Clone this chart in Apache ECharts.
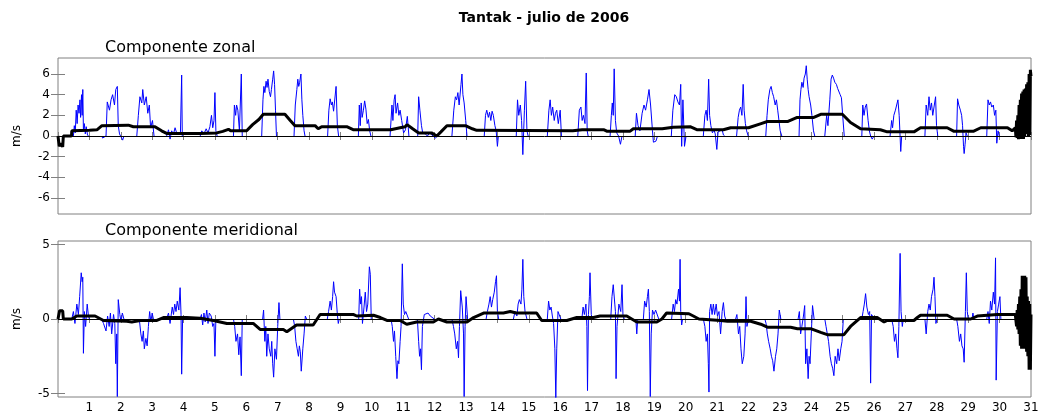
<!DOCTYPE html>
<html>
<head>
<meta charset="utf-8">
<title>Tantak - julio de 2006</title>
<script src="https://cdn.jsdelivr.net/npm/echarts@6/dist/echarts.min.js"></script>
<style>
    html, body { margin: 0; padding: 0; background: #fff; }
    #chart { width: 1043px; height: 414px; }
</style>
</head>
<body>
<div id="chart"></div>
<script>
// y ticks of the two panels
var zonalTicks = [-6, -4, -2, 0, 2, 4, 6];
var meridTicks = [-5, 0, 5];

// componente zonal, raw record (blue), one block per burst [dia, m/s]
var zonalBursts = [
    [[0.49,0],[0.52,1.0],[0.55,0.3],[0.58,2.5],[0.61,1.2],[0.64,3.0],[0.67,2.2],[0.70,3.5],[0.72,1.8],[0.75,4.0],[0.77,2.0],[0.79,4.5],[0.81,0.5],[0.84,1.2],[0.87,0.2],[0.90,0.9],[0.94,0.1],[0.97,0]],
    [[1.40,0],[1.42,-0.2],[1.53,0],[1.57,3.3],[1.64,2.5],[1.69,3.5],[1.74,4.0],[1.80,3.0],[1.84,4.5],[1.89,4.8],[1.92,1.0],[1.96,0.2],[2.06,-0.4],[2.10,0]],
    [[2.51,0],[2.56,2.0],[2.61,3.8],[2.67,3.2],[2.70,4.5],[2.75,3.0],[2.81,3.8],[2.86,2.2],[2.91,3.0],[2.95,0.8],[3.01,1.5],[3.06,0]],
    [[3.46,0],[3.52,0.6],[3.57,-0.3],[3.62,0.5],[3.68,0.2],[3.73,0.8],[3.78,0.3],[3.84,0.4],[3.90,0.2],[3.94,5.9],[3.96,0]],
    [[4.53,0],[4.58,0.5],[4.65,0.2],[4.72,0.7],[4.78,0.3],[4.84,0.9],[4.89,2.0],[4.93,0.8],[4.97,1.5],[5.00,4.2],[5.03,0.5],[5.07,0]],
    [[5.59,0],[5.62,3.0],[5.66,2.0],[5.69,3.0],[5.73,2.5],[5.78,0.5],[5.84,6.0],[5.87,0]],
    [[6.49,0],[6.53,3.5],[6.56,4.8],[6.59,4.2],[6.63,5.3],[6.66,4.7],[6.69,5.5],[6.73,4.3],[6.77,3.8],[6.80,4.5],[6.84,5.5],[6.87,6.3],[6.90,5.0],[6.93,2.5],[6.96,0]],
    [[7.52,0],[7.56,3.0],[7.61,4.5],[7.64,5.5],[7.67,4.8],[7.70,5.2],[7.74,6.0],[7.77,3.5],[7.80,2.0],[7.84,0.5],[7.87,0]],
    [[8.59,0],[8.63,2.5],[8.67,3.6],[8.71,3.0],[8.74,3.3],[8.78,2.4],[8.82,2.5],[8.86,4.8],[8.90,1.0],[8.94,0]],
    [[9.57,0],[9.60,3.0],[9.63,1.0],[9.66,3.2],[9.69,1.8],[9.73,2.5],[9.77,3.4],[9.81,2.6],[9.85,1.2],[9.89,1.6],[9.93,0.5],[9.97,0]],
    [[10.58,0],[10.64,3.0],[10.67,1.5],[10.71,3.5],[10.74,4.0],[10.77,2.2],[10.82,3.2],[10.86,2.0],[10.90,2.5],[10.95,1.5],[11.01,0.3],[11.07,0.6],[11.13,1.9],[11.18,0]],
    [[11.46,0],[11.49,3.8],[11.53,2.5],[11.58,1.0],[11.62,0.3],[11.70,0.2],[11.77,0],[11.84,0.3],[11.90,0.2],[12.02,-0.2],[12.09,0]],
    [[12.55,0],[12.61,2.5],[12.66,3.8],[12.70,3.5],[12.74,4.2],[12.78,3.0],[12.84,5.0],[12.87,6.0],[12.90,4.0],[12.94,3.2],[12.99,1.5],[13.03,0]],
    [[13.58,0],[13.62,2.0],[13.66,2.5],[13.71,1.8],[13.75,2.3],[13.79,1.5],[13.83,2.4],[13.87,2.0],[13.92,1.0],[13.96,0.5],[14.00,-1.0],[14.03,0]],
    [[14.60,0],[14.64,3.5],[14.68,2.0],[14.73,3.0],[14.77,1.5],[14.81,-1.8],[14.86,2.5],[14.90,5.3],[14.94,0.5],[14.98,0]],
    [[15.59,0],[15.64,2.5],[15.68,3.5],[15.72,2.0],[15.76,2.8],[15.81,1.5],[15.85,2.2],[15.89,2.5],[15.94,1.2],[16.00,2.5],[16.04,0]],
    [[16.56,0],[16.61,2.5],[16.66,2.8],[16.70,1.5],[16.74,2.0],[16.79,1.2],[16.83,6.1],[16.86,0.5],[16.89,0]],
    [[17.59,0],[17.63,2.0],[17.66,3.2],[17.69,2.0],[17.72,6.5],[17.76,1.5],[17.80,0.3],[17.86,0],[17.92,-0.8],[17.97,0]],
    [[18.39,0],[18.43,2.2],[18.48,1.0],[18.54,0.5],[18.61,2.2],[18.67,3.0],[18.72,2.5],[18.78,3.5],[18.83,4.5],[18.88,3.0],[18.94,0.5],[18.97,-0.6],[19.05,-0.5],[19.10,0]],
    [[19.54,0],[19.59,2.5],[19.65,4.0],[19.70,3.8],[19.75,3.3],[19.80,3.0],[19.84,5.0],[19.87,-1.0],[19.91,3.5],[19.96,-1.0],[20.01,0]],
    [[20.56,0],[20.61,2.0],[20.65,2.5],[20.69,1.5],[20.73,5.5],[20.76,2.0],[20.80,1.0],[20.85,0.3],[20.90,0.6],[20.94,0.2],[20.99,-1.3],[21.03,0.4],[21.09,0.3],[21.16,0.6],[21.20,0.1],[21.24,0]],
    [[21.62,0],[21.67,1.8],[21.71,2.5],[21.75,2.8],[21.79,2.0],[21.83,5.0],[21.86,2.5],[21.90,1.2],[21.94,0.5],[21.99,0]],
    [[22.55,0],[22.59,2.0],[22.63,3.5],[22.68,4.5],[22.72,4.8],[22.76,4.2],[22.80,3.8],[22.85,3.0],[22.89,3.5],[22.93,2.5],[22.97,1.5],[23.01,0.5],[23.06,0]],
    [[23.61,0],[23.64,3.5],[23.67,4.5],[23.70,5.2],[23.74,4.7],[23.77,5.6],[23.81,6.0],[23.84,6.8],[23.87,5.5],[23.90,4.5],[23.93,3.8],[23.98,3.0],[24.02,2.0],[24.07,0.5],[24.11,0]],
    [[24.43,0],[24.49,2.0],[24.53,1.0],[24.59,3.5],[24.63,5.5],[24.67,5.9],[24.71,5.6],[24.75,5.2],[24.80,5.0],[24.84,4.6],[24.88,4.5],[24.92,4.0],[24.96,3.7],[25.00,2.0],[25.05,0]],
    [[25.61,0],[25.64,3.0],[25.68,2.0],[25.72,2.8],[25.76,3.1],[25.81,1.5],[25.85,0.5],[25.89,0],[25.94,-0.3],[26.00,0]],
    [[26.51,0],[26.56,1.5],[26.59,0.8],[26.63,2.0],[26.68,2.5],[26.72,3.0],[26.76,3.5],[26.80,2.0],[26.85,-1.5],[26.88,0]],
    [[27.62,0],[27.66,3.0],[27.71,2.0],[27.75,3.8],[27.79,2.5],[27.83,3.2],[27.87,2.0],[27.92,3.0],[27.96,3.8],[27.99,1.0],[28.03,0]],
    [[28.63,0],[28.66,3.6],[28.70,3.0],[28.75,2.5],[28.79,2.0],[28.82,1.0],[28.85,-1.0],[28.87,-1.7],[28.90,-0.8],[28.93,0.3],[28.97,0]],
    [[29.59,0],[29.63,3.5],[29.67,3.0],[29.71,3.3],[29.75,2.8],[29.80,3.0],[29.84,2.0],[29.88,2.5],[29.91,-0.7],[29.95,0.5],[29.99,0]]
];

// componente zonal, filtered record (black)
var zonalMean = [
    [0,0],[0.02,-0.1],[0.04,-1.0],[0.10,-0.7],[0.15,-1.05],[0.17,0],[0.43,0],[0.44,0.5],[1.00,0.55],[1.24,0.6],[1.40,1.0],
    [2.24,1.05],[2.40,0.9],[3.09,0.9],[3.30,0.5],[3.46,0.25],[4.53,0.25],[5.06,0.3],[5.25,0.45],[5.43,0.65],[5.50,0.5],
    [6.01,0.5],[6.20,1.1],[6.40,1.6],[6.54,2.1],[7.23,2.1],[7.40,1.5],[7.55,1.0],[8.19,1.0],[8.29,0.7],[8.40,0.9],[9.20,0.9],
    [9.42,0.6],[10.60,0.6],[10.90,0.8],[11.06,0.9],[11.12,1.1],[11.30,0.7],[11.49,0.3],[11.90,0.3],[12.07,0.0],[12.20,0.4],
    [12.39,1.0],[12.98,1.0],[13.20,0.7],[13.34,0.55],[16.40,0.5],[16.70,0.6],[17.40,0.6],[17.50,0.45],[18.22,0.45],[18.33,0.7],
    [19.25,0.7],[19.60,0.85],[20.14,0.9],[20.20,0.95],[20.37,0.6],[21.20,0.6],[21.43,0.8],[22.00,0.8],[22.40,1.2],[22.60,1.4],
    [23.24,1.4],[23.55,1.8],[24.08,1.8],[24.30,2.1],[24.99,2.1],[25.25,1.3],[25.57,0.7],[26.20,0.6],[26.42,0.4],[27.27,0.4],
    [27.48,0.8],[28.33,0.8],[28.55,0.45],[29.16,0.45],[29.40,0.8],[30.25,0.8],[30.40,0.5],[30.50,0.8],
    [30.52,-0.1],[30.54,1.5],[30.56,-0.2],[30.58,2.0],[30.60,-0.3],[30.62,3.0],[30.64,-0.2],[30.66,3.5],[30.68,-0.3],[30.70,4.1],
    [30.72,-0.2],[30.74,4.3],[30.76,-0.3],[30.78,4.5],[30.80,-0.1],[30.82,4.6],[30.84,0.2],[30.86,5.0],[30.88,0.3],[30.90,5.2],
    [30.92,0.0],[30.94,6.0],[30.96,0.1],[30.98,6.4],[31.00,5.8]
];

// componente meridional, raw record (blue)
var meridBursts = [
    [[0.44,0],[0.49,0.5],[0.54,-0.3],[0.60,1.0],[0.65,0.3],[0.69,1.5],[0.74,3.1],[0.77,2.5],[0.79,2.8],[0.81,-2.3],[0.84,0.5],[0.88,-0.5],[0.93,1.0],[0.97,0.2],[1.00,0]],
    [[1.39,0],[1.45,-0.3],[1.53,-0.8],[1.58,0.2],[1.63,-0.5],[1.67,0.4],[1.71,-1.0],[1.77,0.3],[1.81,-0.3],[1.84,-3.0],[1.87,-1.0],[1.89,-5.2],[1.92,1.3],[1.97,0.3],[2.01,-0.2],[2.05,0.4],[2.10,0]],
    [[2.59,0],[2.64,-1.0],[2.68,-1.5],[2.72,-0.8],[2.75,-2.0],[2.80,-1.3],[2.84,-1.8],[2.88,-0.5],[2.92,0.5],[2.96,-0.2],[3.00,0.4],[3.04,0]],
    [[3.46,0],[3.52,0.4],[3.57,-0.3],[3.64,0.8],[3.68,0.3],[3.72,1.0],[3.76,0.5],[3.80,1.2],[3.85,0.6],[3.89,2.1],[3.92,0.3],[3.94,-3.7],[3.97,0]],
    [[4.53,0],[4.57,0.3],[4.61,-0.4],[4.65,0.4],[4.69,-0.2],[4.74,0.6],[4.78,-0.3],[4.82,0.4],[4.88,0.2],[4.93,-0.5],[4.97,-0.3],[5.00,-2.5],[5.03,0]],
    [[5.59,0],[5.63,-0.5],[5.67,-1.5],[5.72,-1.0],[5.76,-2.4],[5.80,-1.2],[5.84,-3.8],[5.87,0]],
    [[6.52,0],[6.55,0.6],[6.59,-1.5],[6.62,-0.5],[6.65,-2.5],[6.69,-1.0],[6.73,-2.0],[6.78,-2.5],[6.81,-1.5],[6.84,-3.0],[6.87,-3.9],[6.91,-2.0],[6.96,-2.7],[7.00,-0.5],[7.04,1.1],[7.07,0]],
    [[7.50,0],[7.54,-0.5],[7.58,-1.5],[7.62,-2.0],[7.66,-2.5],[7.69,-1.8],[7.72,-2.2],[7.75,-3.5],[7.80,-2.0],[7.84,-1.0],[7.88,0.2],[7.92,0]],
    [[8.58,0],[8.62,0.5],[8.67,1.2],[8.71,0.6],[8.75,1.5],[8.78,2.5],[8.81,1.8],[8.86,1.5],[8.90,0.3],[8.93,-0.3],[8.96,0]],
    [[9.58,0],[9.61,2.0],[9.64,1.0],[9.67,1.5],[9.70,-0.3],[9.75,0.8],[9.79,1.8],[9.83,0.5],[9.87,1.0],[9.92,3.5],[9.95,3.0],[9.98,0]],
    [[10.61,0],[10.65,-0.5],[10.69,-1.5],[10.72,-0.8],[10.76,-2.5],[10.80,-4.0],[10.83,-2.8],[10.86,-3.0],[10.90,-1.5],[10.93,-0.5],[10.97,3.7],[11.00,1.0],[11.04,0.3],[11.08,0.5],[11.13,0.4],[11.17,0]],
    [[11.45,0],[11.49,-1.5],[11.52,-2.5],[11.55,-2.0],[11.58,-3.4],[11.61,-0.5],[11.67,0.3],[11.73,0.2],[11.79,0.4],[11.86,0.2],[11.92,0.3],[11.99,0]],
    [[12.55,0],[12.60,-0.5],[12.64,-1.0],[12.69,-2.0],[12.73,-1.5],[12.76,-2.6],[12.79,-0.5],[12.83,1.9],[12.88,0.8],[12.92,-1.0],[12.94,-5.2],[12.97,-0.5],[13.00,1.5],[13.05,0]],
    [[13.64,0],[13.68,0.5],[13.73,1.0],[13.77,1.5],[13.81,0.8],[13.85,1.3],[13.90,1.8],[13.94,2.5],[13.97,2.9],[14.00,0.5],[14.04,0]],
    [[14.51,0],[14.56,0.5],[14.62,0.2],[14.66,1.0],[14.70,1.3],[14.75,1.0],[14.78,2.0],[14.81,4.0],[14.84,1.5],[14.88,0.5],[14.94,0]],
    [[15.59,0],[15.63,1.2],[15.67,0.6],[15.71,0.8],[15.75,0.2],[15.79,-0.3],[15.83,-2.0],[15.86,-5.3],[15.89,-2.0],[15.93,0.5],[15.98,0.4],[16.02,0]],
    [[16.69,0],[16.73,0.8],[16.77,0.3],[16.82,1.0],[16.85,-0.5],[16.87,-4.8],[16.90,0.3],[16.93,1.5],[16.95,3.1],[16.99,0.3],[17.02,0]],
    [[17.61,0],[17.65,1.5],[17.69,2.3],[17.74,1.0],[17.76,0.5],[17.78,-4.0],[17.81,-0.5],[17.87,1.0],[17.93,0.5],[17.97,2.3],[18.00,0.3],[18.04,0]],
    [[18.41,0],[18.44,-1.0],[18.47,0]],
    [[18.65,0],[18.69,1.2],[18.74,0.8],[18.78,1.5],[18.81,2.0],[18.84,0.5],[18.87,-5.2],[18.90,-1.0],[18.94,0.6],[18.99,0.3],[19.04,0.6],[19.10,0.5],[19.14,0]],
    [[19.55,0],[19.60,1.0],[19.64,0.5],[19.68,1.3],[19.72,1.0],[19.77,2.0],[19.80,1.2],[19.82,4.0],[19.84,0.5],[19.87,-0.4],[19.90,0]],
    [[20.56,0],[20.61,-0.5],[20.65,-1.5],[20.69,-1.0],[20.72,-3.0],[20.74,-4.9],[20.76,0.5],[20.80,1.0],[20.84,0.3],[20.88,1.0],[20.92,0.3],[20.97,1.0],[21.01,0.2],[21.06,0.5],[21.11,-1.0],[21.16,0.5],[21.20,1.1],[21.24,0.2],[21.27,0]],
    [[21.59,0],[21.63,0.3],[21.68,-1.0],[21.72,-0.5],[21.76,-2.0],[21.80,-3.0],[21.85,-2.5],[21.89,-1.0],[21.92,1.5],[21.95,-0.5],[22.00,0]],
    [[22.52,0],[22.56,-0.3],[22.60,-1.0],[22.64,-1.5],[22.69,-2.0],[22.73,-2.5],[22.77,-2.8],[22.81,-3.5],[22.86,-2.5],[22.90,-2.0],[22.94,-1.0],[22.98,0.6],[23.03,0]],
    [[23.58,0],[23.62,0.5],[23.66,-1.0],[23.70,-0.5],[23.75,0.2],[23.79,0.9],[23.82,-3.0],[23.86,-2.0],[23.90,-4.0],[23.93,-2.5],[23.96,-3.0],[24.00,-1.0],[24.04,0.9],[24.09,0]],
    [[24.43,0],[24.47,-0.5],[24.51,-1.0],[24.55,-1.5],[24.60,-2.5],[24.64,-3.0],[24.68,-3.3],[24.72,-3.8],[24.76,-2.5],[24.81,-3.0],[24.85,-2.0],[24.89,-2.8],[24.94,-2.0],[24.98,-1.5],[25.02,0]],
    [[25.61,0],[25.65,0.5],[25.69,1.0],[25.73,1.7],[25.77,0.8],[25.82,0.3],[25.86,0.5],[25.89,-4.3],[25.92,0.3],[25.97,0.4],[26.01,0]],
    [[26.56,0],[26.61,-0.5],[26.65,-1.5],[26.69,-1.0],[26.73,-2.0],[26.76,-2.6],[26.79,-0.5],[26.83,4.4],[26.86,0.5],[26.90,-0.5],[26.93,0]],
    [[27.62,0],[27.66,-1.0],[27.71,0.5],[27.75,1.0],[27.79,0.6],[27.83,1.5],[27.88,2.0],[27.91,2.8],[27.94,1.5],[27.97,-0.3],[28.01,0]],
    [[28.63,0],[28.67,-0.5],[28.72,-1.5],[28.76,-1.0],[28.80,-1.8],[28.84,-2.0],[28.87,-2.9],[28.91,0.5],[28.94,3.1],[28.97,0.5],[29.00,0]],
    [[29.12,0],[29.15,0.4],[29.18,0]],
    [[29.59,0],[29.63,0.5],[29.67,-0.3],[29.71,1.2],[29.75,0.6],[29.80,1.8],[29.84,1.0],[29.87,4.1],[29.89,-4.1],[29.93,0.5],[29.97,1.0],[30.01,1.5],[30.04,0]]
];

// componente meridional, filtered record (black)
var meridMean = [
    [0,0],[0.04,0],[0.05,0.55],[0.15,0.55],[0.17,0],[0.44,0],[0.60,0.2],[1.18,0.2],[1.45,-0.1],[2.19,-0.15],[2.35,-0.2],
    [2.62,-0.1],[3.15,-0.1],[3.36,0.1],[4.10,0.1],[4.53,0.05],[4.95,-0.1],[5.38,-0.3],[6.22,-0.3],[6.44,-0.7],[7.18,-0.7],
    [7.29,-0.85],[7.60,-0.4],[8.13,-0.4],[8.35,0.3],[9.42,0.3],[9.52,0.2],[10.05,0.25],[10.27,0.1],[10.48,-0.1],[10.90,-0.1],
    [11.11,-0.35],[11.43,-0.2],[11.96,-0.2],[12.12,0.0],[12.39,-0.2],[13.03,-0.2],[13.24,0.1],[13.56,0.4],[14.19,0.4],
    [14.41,0.5],[14.60,0.4],[15.25,0.4],[15.41,-0.1],[16.21,-0.1],[16.53,0.1],[17.06,0.1],[17.27,0.2],[18.12,0.2],
    [18.44,-0.2],[19.08,-0.2],[19.24,0.0],[19.39,0.4],[20.10,0.35],[20.24,0.2],[20.42,0.0],[20.48,-0.1],[21.11,-0.1],
    [21.33,-0.15],[22.07,-0.15],[22.39,-0.35],[22.60,-0.55],[23.34,-0.55],[23.56,-0.65],[23.98,-0.65],[24.30,-0.9],
    [24.51,-1.05],[25.04,-1.05],[25.25,-0.5],[25.57,0.1],[26.10,0.1],[26.32,-0.2],[26.42,-0.1],[27.27,-0.1],[27.38,0.1],
    [27.48,0.25],[28.33,0.25],[28.55,0.0],[29.08,0.0],[29.29,0.2],[29.93,0.3],[30.50,0.3],
    [30.52,0.3],[30.54,-0.5],[30.56,0.6],[30.58,-0.7],[30.60,1.0],[30.62,-1.0],[30.64,1.5],[30.66,-1.8],[30.68,2.0],[30.70,-2.0],
    [30.72,2.9],[30.74,-2.0],[30.76,2.9],[30.78,-2.0],[30.80,2.9],[30.82,-2.0],[30.84,2.8],[30.86,-2.2],[30.88,1.5],[30.90,-2.5],
    [30.92,1.2],[30.94,-3.4],[30.96,1.0],[30.98,-3.4],[31.00,0.3]
];

// bursts -> one line with breaks between them
function joinBursts(bursts) {
    var out = [];
    bursts.forEach(function(b) {
        out = out.concat(b);
        out.push([b[b.length - 1][0], '-']);
    });
    return out;
}

var gray = '#808080';
var tickFont = { color: '#000', fontFamily: 'DejaVu Sans', fontSize: 12 };

function xAx(grid, pos, labels) {
    return {
        type: 'value', gridIndex: grid, position: pos,
        min: 0, max: 31, interval: 1,
        axisLine: { show: false },
        axisTick: { inside: true, length: 4, lineStyle: { color: gray } },
        axisLabel: Object.assign({
            show: labels, margin: 5, showMinLabel: true, showMaxLabel: true,
            formatter: function(v) { return v === 0 ? '' : String(v); }
        }, tickFont),
        splitLine: { show: false }
    };
}

function yAx(grid, pos, lim, ticks, labels) {
    return {
        type: 'value', gridIndex: grid, position: pos,
        min: -lim, max: lim,
        axisLine: { show: false },
        axisTick: { inside: true, length: 7, customValues: ticks, lineStyle: { color: gray } },
        axisLabel: Object.assign({ show: labels, margin: 8, customValues: ticks }, tickFont),
        splitLine: { show: false },
        name: labels ? 'm/s' : '',
        nameLocation: 'middle',
        nameGap: 35,
        nameTextStyle: { color: '#000', fontFamily: 'DejaVu Sans', fontSize: 12 }
    };
}

var zeroLine = {
    silent: true, symbol: 'none', label: { show: false },
    lineStyle: { color: '#000', width: 1, type: 'solid' },
    data: [{ yAxis: 0 }]
};

var chart = echarts.init(document.getElementById('chart'));
chart.setOption({
    animation: false,
    backgroundColor: '#fff',
    graphic: [
        { type: 'text', x: 544, y: 18, style: { text: 'Tantak - julio de 2006', font: 'bold 14px "DejaVu Sans"', fill: '#000', align: 'center', verticalAlign: 'middle' } },
        { type: 'text', x: 105, y: 48, style: { text: 'Componente zonal', font: '16px "DejaVu Sans"', fill: '#000', align: 'left', verticalAlign: 'middle' } },
        { type: 'text', x: 105, y: 231, style: { text: 'Componente meridional', font: '16px "DejaVu Sans"', fill: '#000', align: 'left', verticalAlign: 'middle' } }
    ],
    grid: [
        { left: 58, right: 12, top: 58, height: 156, show: true, borderColor: gray, borderWidth: 1 },
        { left: 58, right: 12, top: 241, height: 156, show: true, borderColor: gray, borderWidth: 1 }
    ],
    xAxis: [xAx(0, 'bottom', false), xAx(0, 'top', false), xAx(1, 'bottom', true), xAx(1, 'top', false)],
    yAxis: [
        yAx(0, 'left', 7.55, zonalTicks, true), yAx(0, 'right', 7.55, zonalTicks, false),
        yAx(1, 'left', 5.23, meridTicks, true), yAx(1, 'right', 5.23, meridTicks, false)
    ],
    series: [
        { type: 'line', xAxisIndex: 0, yAxisIndex: 0, data: joinBursts(zonalBursts), showSymbol: false, connectNulls: false,
          lineStyle: { color: '#0000ff', width: 1 }, markLine: zeroLine },
        { type: 'line', xAxisIndex: 0, yAxisIndex: 0, data: zonalMean, showSymbol: false,
          lineStyle: { color: '#000', width: 3 } },
        { type: 'line', xAxisIndex: 2, yAxisIndex: 2, data: joinBursts(meridBursts), showSymbol: false, connectNulls: false,
          lineStyle: { color: '#0000ff', width: 1 }, markLine: zeroLine },
        { type: 'line', xAxisIndex: 2, yAxisIndex: 2, data: meridMean, showSymbol: false,
          lineStyle: { color: '#000', width: 3 } }
    ]
});
</script>
</body>
</html>
